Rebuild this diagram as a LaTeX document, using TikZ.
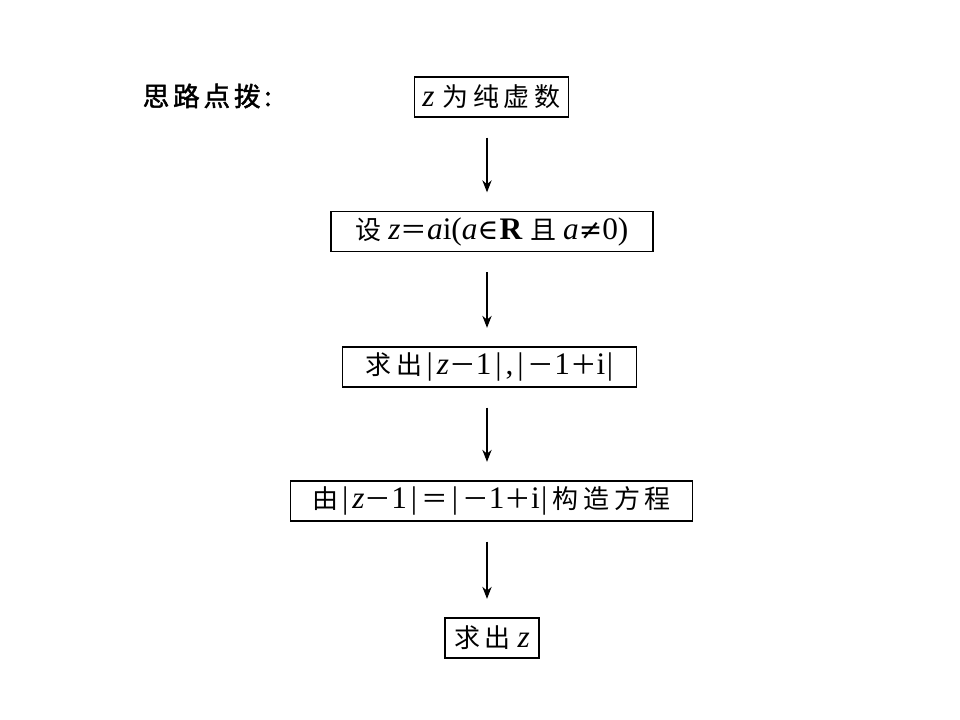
\documentclass[tikz,border=0pt]{standalone}
\usepackage{fontspec}
\setmainfont{Liberation Serif}
\newfontfamily\sym{DejaVu Serif}
\newfontfamily\cjk{Noto Sans CJK SC}[LetterSpace=18,Scale=0.83]
\newfontfamily\cjkn{Noto Sans CJK SC}[Scale=0.85]
\newfontfamily\cjkt{Noto Sans CJK SC}[LetterSpace=14,FakeBold=1.6]
\newcommand\iv[1]{\textit{#1}}
\newcommand\fe{{\cjkn ＝}}
\newcommand\fm{{\cjkn －}}
\newcommand\fp{{\cjkn ＋}}
\newcommand\vbr{\hspace{3pt}|\hspace{3pt}}
\usetikzlibrary{arrows.meta}
\begin{document}
\begin{tikzpicture}[x=0.75pt,y=-0.75pt,
  box/.style={draw,line width=0.8pt,inner sep=0pt,minimum height=30pt,font=\fontsize{23.5}{26}\selectfont},
  arr/.style={line width=0.8pt,-{Stealth[length=9pt,width=7pt]}}]
\useasboundingbox (0,0) rectangle (960,720);
\node[anchor=west,font=\cjkt\fontsize{20}{24}\selectfont] (title) at (138,96) {思路点拨:};
\node[box,minimum width=116pt] (b1) at (491.5,97) {\iv{z}\hspace{6pt}{\cjk 为纯虚数}};
\node[box,minimum width=241.5pt] (b2) at (492,231.5) {{\cjk 设}\hspace{5pt}\iv{z}\fe\iv{a}i(\iv{a}{\sym\fontsize{21}{22}\selectfont∈}\hspace{1pt}\textbf{R}\hspace{6pt}{\cjk 且}\hspace{5pt}\iv{a}{\sym\fontsize{21}{22}\selectfont≠}0)};
\node[box,minimum width=220pt] (b3) at (489.5,367) {{\cjk 求出}\vbr\iv{z}\fm 1\vbr,\vbr\fm 1\fp i\hspace{1pt}|};
\node[box,minimum width=301pt] (b4) at (491.5,501) {{\cjk 由}\vbr\iv{z}\fm 1\vbr\fe\vbr\fm 1\fp i\hspace{1pt}|\hspace{4pt}{\cjk 构造方程}};
\node[box,minimum width=70.5pt] (b5) at (492,638) {{\cjk 求出}\hspace{5pt}\iv{z}};
\coordinate (ax) at (487,0);
\foreach \a/\b in {b1/b2,b2/b3,b3/b4,b4/b5}
  \draw[arr,shorten <=15pt,shorten >=14pt] (\a.south -| ax) -- (\b.north -| ax);
\end{tikzpicture}
\end{document}
